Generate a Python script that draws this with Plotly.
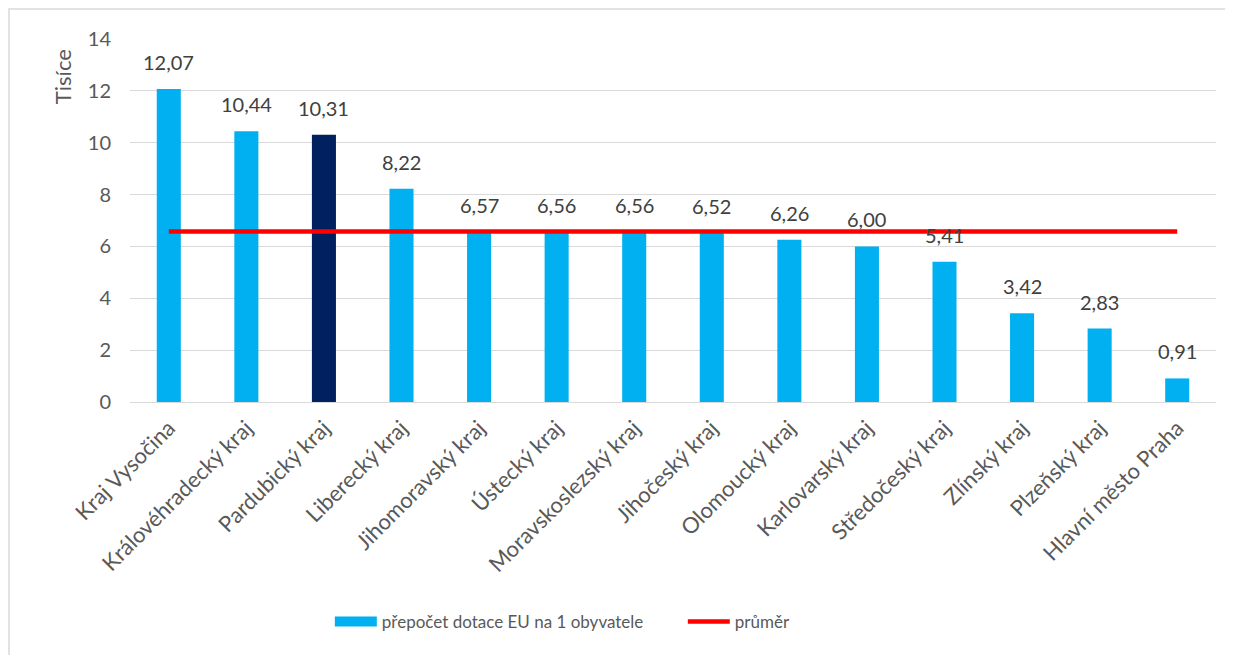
import plotly.graph_objects as go

categories = ["Kraj Vysočina", "Královéhradecký kraj", "Pardubický kraj", "Liberecký kraj",
              "Jihomoravský kraj", "Ústecký kraj", "Moravskoslezský kraj", "Jihočeský kraj",
              "Olomoucký kraj", "Karlovarský kraj", "Středočeský kraj", "Zlínský kraj",
              "Plzeňský kraj", "Hlavní město Praha"]
values = [12.07, 10.44, 10.31, 8.22, 6.57, 6.56, 6.56, 6.52, 6.26, 6.00, 5.41, 3.42, 2.83, 0.91]
average = [6.58] * 14
highlight = "Pardubický kraj"
bar_name = "přepočet dotace EU na 1 obyvatele"
avg_name = "průměr"

FONT = "Lato"
BLUE = "#00B0F0"
bar_colors = ["#002060" if c == highlight else BLUE for c in categories]

fig = go.Figure()
fig.add_trace(go.Bar(
    x=categories, y=values, name=bar_name, showlegend=False,
    marker=dict(color=bar_colors, line=dict(width=0)), width=0.31,
))
# legend entry with a wide swatch like the original
fig.add_trace(go.Scatter(
    x=[categories[0]], y=[None], name=bar_name, mode="lines",
    line=dict(color=BLUE, width=14),
))
fig.add_trace(go.Scatter(
    x=categories, y=average, name=avg_name, mode="lines",
    line=dict(color="#FF0000", width=4.5),
))

for c, v in zip(categories, values):
    fig.add_annotation(x=c, y=v, text=f"{v:.2f}".replace(".", ","), showarrow=False,
                       yanchor="bottom", yshift=13,
                       font=dict(family=FONT, size=20, color="#404040"))

fig.add_annotation(xref="paper", yref="paper", x=-0.0626, y=0.895, text="Tisíce",
                   textangle=-90, showarrow=False, xanchor="center", yanchor="middle",
                   font=dict(family=FONT, size=22, color="#595959"))

fig.add_shape(type="rect", xref="paper", yref="paper",
              x0=-0.1114, x1=1.05, y0=-0.8, y1=1.0826,
              line=dict(color="#D9D9D9", width=1.5), fillcolor="rgba(0,0,0,0)", layer="below")

fig.update_layout(
    width=1233, height=655,
    margin=dict(l=122, r=25, t=31, b=261, autoexpand=False),
    plot_bgcolor="white", paper_bgcolor="white",
    separators=",.",
    bargap=0.69,
    font=dict(family=FONT, size=17, color="#595959"),
    showlegend=True,
    legend=dict(orientation="h", x=0.184, xanchor="left", y=-0.606, yanchor="middle",
                font=dict(family=FONT, size=17, color="#595959"), itemwidth=42,
                entrywidth=296, tracegroupgap=0),
    xaxis=dict(tickangle=-45, showgrid=False, showline=False, ticks="", automargin=False,
               ticklabelstandoff=8,
               tickfont=dict(family=FONT, size=22, color="#595959")),
    yaxis=dict(range=[0, 14], dtick=2, showgrid=True, gridcolor="#D9D9D9", gridwidth=1.3,
               zeroline=True, zerolinecolor="#D9D9D9", zerolinewidth=1.3,
               showline=False, ticks="", ticklen=0, automargin=False,
               ticklabelstandoff=18,
               tickfont=dict(family=FONT, size=20, color="#595959")),
)

fig.write_html("out.html")
